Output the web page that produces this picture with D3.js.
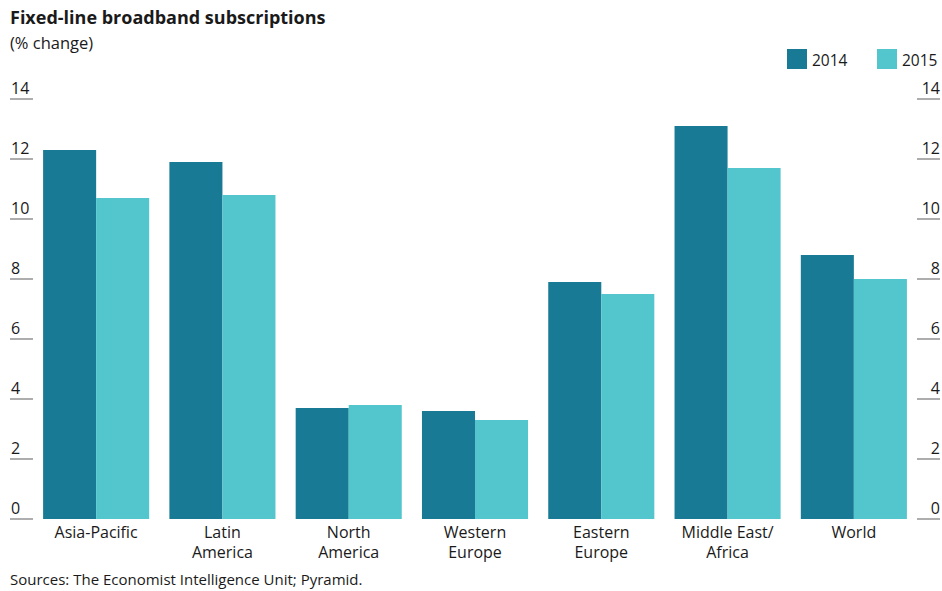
<!DOCTYPE html>
<html>
<head>
<meta charset="utf-8">
<script src="https://cdn.jsdelivr.net/npm/d3@7"></script>
<style>
  body { margin: 0; background: #fff; }
  text { font-family: "Open Sans", "Noto Sans", sans-serif; fill: #1a1a1a; }
</style>
</head>
<body>
<div id="chart"></div>
<script>
// data
var categories = ["Asia-Pacific", "Latin America", "North America", "Western Europe", "Eastern Europe", "Middle East/ Africa", "World"];
var categoryLines = [["Asia-Pacific"], ["Latin", "America"], ["North", "America"], ["Western", "Europe"], ["Eastern", "Europe"], ["Middle East/", "Africa"], ["World"]];
var seriesNames = ["2014", "2015"];
var values2014 = [12.3, 11.9, 3.7, 3.6, 7.9, 13.1, 8.8];
var values2015 = [10.7, 10.8, 3.8, 3.3, 7.5, 11.7, 8.0];
var tickValues = [0, 2, 4, 6, 8, 10, 12, 14];

const width = 942, height = 591;
const colors = ["#187a94", "#53c5cc"];

var svg = d3.select("#chart").append("svg")
    .attr("width", width)
    .attr("height", height);

const y = d3.scaleLinear().domain([0, 14]).range([519, 99]);

const x = d3.scaleBand()
    .domain(categories)
    .range([33, 917])
    .paddingInner(0.16)
    .paddingOuter(0.08);

const xs = d3.scaleBand()
    .domain(seriesNames)
    .range([0, x.bandwidth()]);

const color = d3.scaleOrdinal().domain(seriesNames).range(colors);

// title
svg.append("text").attr("x", 10).attr("y", 24)
    .style("font-size", "18px").style("font-weight", "bold")
    .text("Fixed-line broadband subscriptions");
svg.append("text").attr("x", 10).attr("y", 49)
    .style("font-size", "16.5px")
    .text("(% change)");

// axes ticks left and right
var ticks = svg.append("g").attr("id", "ticks");
tickValues.forEach(function (t) {
    ticks.append("line").attr("x1", 10).attr("x2", 33)
        .attr("y1", y(t)).attr("y2", y(t))
        .attr("stroke", "#777").attr("stroke-width", 1.2);
    ticks.append("line").attr("x1", 917).attr("x2", 940)
        .attr("y1", y(t)).attr("y2", y(t))
        .attr("stroke", "#777").attr("stroke-width", 1.2);
    ticks.append("text").attr("x", 11).attr("y", y(t) - 5)
        .style("font-size", "16px").text(t);
    ticks.append("text").attr("x", 940).attr("y", y(t) - 5)
        .style("font-size", "16px").style("text-anchor", "end").text(t);
});

// bars
var data = categories.map(function (c, i) {
    return { cat: c, values: [values2014[i], values2015[i]] };
});

var groups = svg.append("g").attr("id", "bars").selectAll("g")
    .data(data).enter().append("g")
    .attr("transform", function (d) { return "translate(" + x(d.cat) + ",0)"; });

groups.selectAll("rect")
    .data(function (d) { return d.values.map(function (v, j) { return { key: seriesNames[j], value: v }; }); })
    .enter().append("rect")
    .attr("x", function (d) { return xs(d.key); })
    .attr("width", xs.bandwidth())
    .attr("y", function (d) { return y(d.value); })
    .attr("height", function (d) { return y(0) - y(d.value); })
    .style("fill", function (d) { return color(d.key); });

// category labels
var labels = svg.append("g").attr("id", "labels");
categories.forEach(function (c, i) {
    var t = labels.append("text")
        .attr("x", x(c) + x.bandwidth() / 2)
        .attr("y", 538)
        .style("font-size", "16px")
        .style("text-anchor", "middle");
    categoryLines[i].forEach(function (line, k) {
        t.append("tspan").attr("x", x(c) + x.bandwidth() / 2)
            .attr("dy", k === 0 ? 0 : 20).text(line);
    });
});

// legend
var legendX = [787, 877];
seriesNames.forEach(function (s, i) {
    svg.append("rect").attr("x", legendX[i]).attr("y", 49)
        .attr("width", 20).attr("height", 20).style("fill", color(s));
    svg.append("text").attr("x", legendX[i] + 25).attr("y", 66)
        .style("font-size", "15.5px").text(s);
});

// source
svg.append("text").attr("x", 10).attr("y", 585)
    .style("font-size", "15px")
    .text("Sources: The Economist Intelligence Unit; Pyramid.");
</script>
</body>
</html>
